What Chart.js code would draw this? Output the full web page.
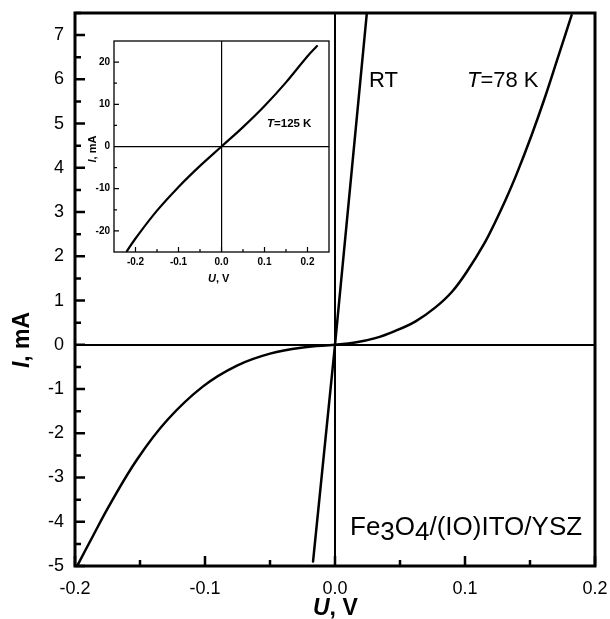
<!DOCTYPE html>
<html>
<head>
<meta charset="utf-8">
<script src="https://cdn.jsdelivr.net/npm/chart.js@4/dist/chart.umd.min.js"></script>
<style>
    html, body { margin: 0; padding: 0; background: #fff; }
    #wrap { position: relative; width: 610px; height: 619px; }
    #mainChart { position: absolute; left: 0; top: 0; }
    #insetChart { position: absolute; left: 80px; top: 35px; }
</style>
</head>
<body>
<div id="wrap">
    <canvas id="mainChart" width="610" height="619"></canvas>
    <canvas id="insetChart" width="255" height="250"></canvas>
</div>
<script>
// main panel: I-V curves
const rtU = [-0.0169, 0, 0.0245];
const rtI = [-4.9, 0, 7.5];
const t78U = [-0.198, -0.186, -0.173, -0.152, -0.129, -0.1015, -0.0754, -0.050, -0.0246, 0,
              0.0154, 0.031, 0.046, 0.062, 0.077, 0.090, 0.102, 0.115, 0.123, 0.131,
              0.140, 0.151, 0.161, 0.171, 0.182];
const t78I = [-4.98, -4.31, -3.60, -2.58, -1.70, -0.94, -0.47, -0.20, -0.06, 0,
              0.05, 0.15, 0.31, 0.53, 0.84, 1.20, 1.68, 2.30, 2.76, 3.26,
              3.88, 4.72, 5.55, 6.45, 7.45];
const mainXTicks = [-0.2, -0.1, 0, 0.1, 0.2];
const mainXMinor = [-0.15, -0.05, 0.05, 0.15];
const mainYTicks = [-5, -4, -3, -2, -1, 0, 1, 2, 3, 4, 5, 6, 7];
const mainYMinor = [-4.5, -3.5, -2.5, -1.5, -0.5, 0.5, 1.5, 2.5, 3.5, 4.5, 5.5, 6.5, 7.5];

// inset: T = 125 K
const t125U = [-0.22, -0.2, -0.15, -0.1, -0.05, 0, 0.05, 0.1, 0.15, 0.2, 0.222];
const t125I = [-24.8, -21.8, -15.2, -9.6, -4.6, 0, 4.6, 9.6, 15.2, 21.4, 23.8];
const insetXTicks = [-0.2, -0.1, 0, 0.1, 0.2];
const insetXMinor = [-0.15, -0.05, 0.05, 0.15];
const insetYTicks = [-20, -10, 0, 10, 20];
const insetYMinor = [-15, -5, 5, 15];

const FONT = '"Liberation Sans", Arial, sans-serif';

const toPoints = (us, is) => us.map((u, k) => ({ x: u, y: is[k] }));
const isZero = v => Math.abs(v) < 1e-9;

// inward ticks + frame box
const frameAndTicks = {
    id: 'frameAndTicks',
    afterDraw(chart, args, o) {
        const { ctx, chartArea: a, scales: { x, y } } = chart;
        ctx.save();
        ctx.strokeStyle = '#000';
        ctx.lineWidth = o.tickWidth;
        ctx.beginPath();
        const tickX = (vals, len) => vals.forEach(v => {
            const px = x.getPixelForValue(v);
            ctx.moveTo(px, a.bottom); ctx.lineTo(px, a.bottom - len);
        });
        const tickY = (vals, len) => vals.forEach(v => {
            const py = y.getPixelForValue(v);
            ctx.moveTo(a.left, py); ctx.lineTo(a.left + len, py);
        });
        tickX(o.xMajor, o.majorLen); tickX(o.xMinor, o.minorLen);
        tickY(o.yMajor, o.majorLen); tickY(o.yMinor, o.minorLen);
        ctx.stroke();
        ctx.lineWidth = o.frameWidth;
        ctx.strokeRect(a.left, a.top, a.right - a.left, a.bottom - a.top);
        ctx.restore();
    }
};

// draws runs of text: [text, font, dy]
function drawRuns(ctx, x, y, runs) {
    runs.forEach(([txt, font, dy]) => {
        ctx.font = font;
        ctx.fillText(txt, x, y + (dy || 0));
        x += ctx.measureText(txt).width;
    });
}

function fmtTick(v) {
    return isZero(v) ? '0.0' : v.toFixed(1);
}

const mainLabels = {
    id: 'mainLabels',
    afterDraw(chart) {
        const ctx = chart.ctx;
        ctx.save();
        ctx.fillStyle = '#000';
        ctx.textBaseline = 'alphabetic';
        ctx.textAlign = 'left';
        drawRuns(ctx, 369, 87, [['RT', '22px ' + FONT]]);
        drawRuns(ctx, 467, 87, [['T', 'italic 22px ' + FONT], ['=78 K', '22px ' + FONT]]);
        drawRuns(ctx, 350, 535, [
            ['Fe', '26px ' + FONT], ['3', '26px ' + FONT, 5], ['O', '26px ' + FONT],
            ['4', '26px ' + FONT, 5], ['/(IO)ITO/YSZ', '26px ' + FONT]
        ]);
        drawRuns(ctx, 313, 615, [['U', 'italic bold 23px ' + FONT], [', V', 'bold 23px ' + FONT]]);
        // rotated y title
        ctx.translate(29, 340);
        ctx.rotate(-Math.PI / 2);
        ctx.font = 'bold 23px ' + FONT;
        const w = ctx.measureText('I, mA').width;
        drawRuns(ctx, -w / 2, 0, [['I', 'italic bold 23px ' + FONT], [', mA', 'bold 23px ' + FONT]]);
        ctx.restore();
    }
};

const insetLabels = {
    id: 'insetLabels',
    afterDraw(chart) {
        const ctx = chart.ctx;
        ctx.save();
        ctx.fillStyle = '#000';
        ctx.textBaseline = 'alphabetic';
        ctx.textAlign = 'left';
        drawRuns(ctx, 187, 92, [['T', 'italic bold 11.5px ' + FONT], ['=125 K', 'bold 11.5px ' + FONT]]);
        drawRuns(ctx, 128, 247, [['U', 'italic bold 11px ' + FONT], [', V', 'bold 11px ' + FONT]]);
        ctx.translate(16, 114);
        ctx.rotate(-Math.PI / 2);
        ctx.font = 'bold 11px ' + FONT;
        const w = ctx.measureText('I, mA').width;
        drawRuns(ctx, -w / 2, 0, [['I', 'italic bold 11px ' + FONT], [', mA', 'bold 11px ' + FONT]]);
        ctx.restore();
    }
};

function makeScales(opt) {
    return {
        x: {
            type: 'linear',
            min: opt.xMin, max: opt.xMax,
            afterBuildTicks: s => { s.ticks = opt.xTicks.map(v => ({ value: v })); },
            afterFit: s => { s.height = opt.xHeight; s.paddingLeft = 0; s.paddingRight = 0; },
            border: { display: false },
            grid: {
                drawTicks: false,
                color: c => isZero(c.tick.value) ? '#000' : 'rgba(0,0,0,0)',
                lineWidth: opt.zeroWidth
            },
            ticks: {
                maxRotation: 0,
                autoSkip: false,
                padding: opt.xPad,
                color: '#000',
                font: { family: FONT, size: opt.tickSize, weight: opt.tickWeight },
                callback: v => fmtTick(v)
            }
        },
        y: {
            type: 'linear',
            min: opt.yMin, max: opt.yMax,
            afterBuildTicks: s => { s.ticks = opt.yTicks.map(v => ({ value: v })); },
            afterFit: s => { s.width = opt.yWidth; s.paddingTop = 0; s.paddingBottom = 0; },
            border: { display: false },
            grid: {
                drawTicks: false,
                color: c => isZero(c.tick.value) ? '#000' : 'rgba(0,0,0,0)',
                lineWidth: opt.zeroWidth
            },
            ticks: {
                autoSkip: false,
                padding: opt.yPad,
                color: '#000',
                font: { family: FONT, size: opt.tickSize, weight: opt.tickWeight },
                callback: v => String(v)
            }
        }
    };
}

const lineStyle = w => ({
    showLine: true, pointRadius: 0, borderColor: '#000', borderWidth: w,
    fill: false, tension: 0.4, borderJoinStyle: 'round', borderCapStyle: 'round'
});

new Chart(document.getElementById('mainChart'), {
    type: 'scatter',
    data: {
        datasets: [
            { label: 'RT', data: toPoints(rtU, rtI), ...lineStyle(2.5), tension: 0 },
            { label: 'T=78 K', data: toPoints(t78U, t78I), ...lineStyle(2.5) }
        ]
    },
    options: {
        responsive: false,
        devicePixelRatio: 1,
        animation: false,
        layout: { padding: { top: 13, right: 15, left: 0, bottom: 0 } },
        plugins: {
            legend: { display: false },
            tooltip: { enabled: false },
            frameAndTicks: {
                xMajor: mainXTicks, xMinor: mainXMinor, yMajor: mainYTicks, yMinor: mainYMinor,
                majorLen: 10, minorLen: 6, tickWidth: 2.5, frameWidth: 3
            }
        },
        scales: makeScales({
            xMin: -0.2, xMax: 0.2, yMin: -5, yMax: 7.5,
            xTicks: mainXTicks, yTicks: mainYTicks,
            xHeight: 53, yWidth: 75, xPad: 12, yPad: 11,
            tickSize: 18, tickWeight: 'normal', zeroWidth: 2
        })
    },
    plugins: [frameAndTicks, mainLabels]
});

new Chart(document.getElementById('insetChart'), {
    type: 'scatter',
    data: {
        datasets: [
            { label: 'T=125 K', data: toPoints(t125U, t125I), ...lineStyle(2.2) }
        ]
    },
    options: {
        responsive: false,
        devicePixelRatio: 1,
        animation: false,
        layout: { padding: { top: 6, right: 6, left: 0, bottom: 0 } },
        plugins: {
            legend: { display: false },
            tooltip: { enabled: false },
            frameAndTicks: {
                xMajor: insetXTicks, xMinor: insetXMinor, yMajor: insetYTicks, yMinor: insetYMinor,
                majorLen: 5, minorLen: 3, tickWidth: 1.2, frameWidth: 1.3
            }
        },
        scales: makeScales({
            xMin: -0.25, xMax: 0.25, yMin: -25, yMax: 25,
            xTicks: insetXTicks, yTicks: insetYTicks,
            xHeight: 33, yWidth: 34, xPad: 4, yPad: 4,
            tickSize: 10, tickWeight: 'bold', zeroWidth: 1.2
        })
    },
    plugins: [frameAndTicks, insetLabels]
});
</script>
</body>
</html>
